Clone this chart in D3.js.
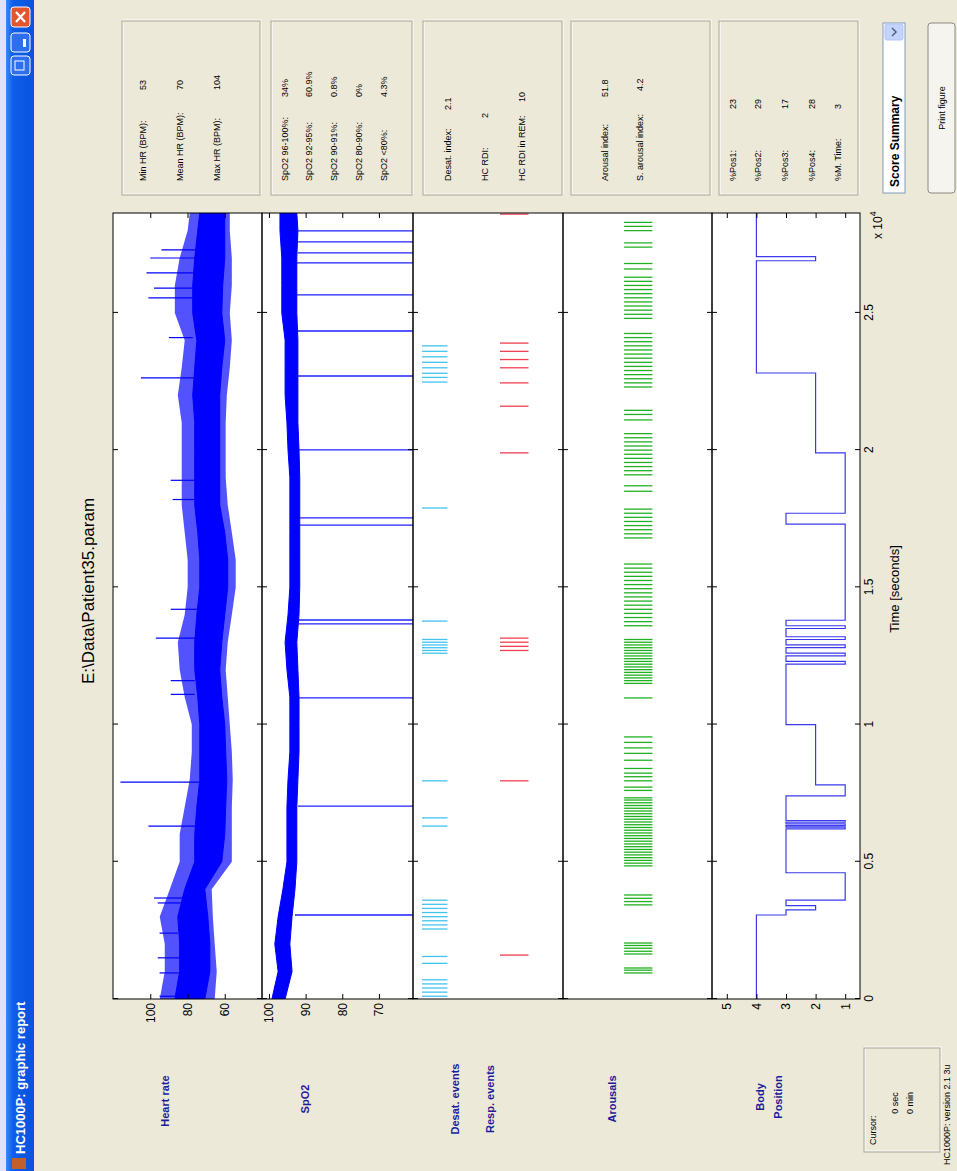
<!DOCTYPE html>
<html><head><meta charset="utf-8">
<script src="https://cdn.jsdelivr.net/npm/d3@7"></script>
<style>
body{margin:0;background:#ECE9D8;overflow:hidden;}
svg{display:block;font-family:"Liberation Sans",Arial,sans-serif;}
</style>
</head><body>
<svg id="c" width="957" height="1171"></svg>
<script>
// ---------------- DATA ----------------
const xTicks = [0, 5000, 10000, 15000, 20000, 25000];
const hrTicks = [60, 80, 100];
const spo2Ticks = [70, 80, 90, 100];
const posTicks = [1, 2, 3, 4, 5];

// heart-rate envelope (time s; core band and outer noisy fringe, bpm)
const hrTime      = [0,1000,2000,3000,4000,5000,6000,7000,8000,9000,10000,11000,12000,13000,14000,15000,16000,17000,18000,19000,20000,21000,22000,23000,24000,25000,26000,27000,28000,28640];
const hrCoreHigh  = [86.8,84.2,84.2,85.2,81.5,76.1,76.1,75.0,73.4,73.4,73.4,74.5,76.1,76.1,75.0,73.4,73.4,74.5,76.1,76.1,76.1,76.1,77.2,76.1,75.0,77.2,77.2,76.1,74.5,73.4];
const hrCoreLow   = [70.7,68.0,68.0,69.1,70.7,61.6,60.0,59.5,58.9,59.5,60.0,61.6,62.7,61.6,60.0,58.4,58.4,60.0,62.7,62.7,62.7,62.7,62.7,61.6,60.0,61.6,61.1,60.0,60.0,60.0];
const hrOuterHigh = [94.9,92.2,92.2,94.9,89.5,84.2,84.2,81.5,78.8,77.7,77.7,81.5,84.2,85.2,81.5,79.9,79.9,81.5,83.1,83.1,83.1,83.1,85.2,83.1,81.5,86.8,86.8,84.2,79.9,78.8];
const hrOuterLow  = [65.4,64.3,65.4,66.4,67.0,56.2,56.2,56.2,55.7,56.2,57.3,58.4,59.5,58.4,56.2,54.1,54.1,56.2,58.4,59.5,59.5,59.5,58.9,57.3,56.2,57.3,56.2,56.2,57.3,57.3];
const hrSpikeTime  = [100,950,1500,2400,3500,3680,6300,7900,11100,11600,13150,14200,18200,18900,22630,24100,25550,25900,26460,27000,27300];
const hrSpikeValue = [95,95,96,95,96,98,101,116,89,89,97,89,88,89,105,90,101,98,102,100,94];

// SpO2 envelope (%)
const spo2Time = [0,1000,2000,3000,4000,5000,6000,7000,8000,9000,10000,11000,12000,13000,14000,15000,16000,17000,18000,19000,20000,21000,22000,23000,24000,25000,26000,27000,28000,28640];
const spo2High = [99.2,97.5,98.4,97.5,96.2,95.1,95.1,95.1,94.8,94.3,94.3,94.3,95.1,95.6,94.8,94.3,94.3,94.3,94.3,94.3,94.8,95.1,95.6,95.6,95.6,96.5,96.5,96.5,97.0,97.0];
const spo2Low  = [95.6,93.7,94.3,93.7,92.9,92.4,92.4,92.4,92.1,91.8,91.8,91.8,92.1,92.4,91.8,91.6,91.6,91.6,91.6,91.6,91.8,92.1,92.1,92.1,92.1,92.4,92.4,92.4,92.1,92.4];
const spo2DropTime  = [3060,7030,10970,13670,13810,17270,17530,20010,22700,24340,25660,26820,27190,27590,27990];
const spo2DropValue = [0,0,0,0,0,0,0,0,0,0,0,0,0,0,0];

// events (time s)
const desatTimes = [100,250,400,550,700,1300,1550,2550,2700,2850,3000,3150,3300,3450,3600,6300,6600,7950,12600,12700,12800,12900,13000,13100,13770,17890,22480,22650,22800,23000,23200,23400,23600,23800];
const respTimes = [1600,7950,12700,12850,13000,13150,19900,21600,22450,23000,23300,23600,23900,28600];
const arousalTimes = [950,1050,1130,1640,1740,1850,1950,2040,3430,3550,3670,3790,
 4850,4950,5050,5150,5250,5350,5450,5550,5650,5750,5850,5950,6050,6150,6250,6350,6450,6550,6650,6750,6850,6950,7050,7150,7250,7330,
 7600,7720,7950,8100,8230,8400,8700,8950,9150,9350,9550,10970,
 11500,11600,11700,11800,11900,12000,12100,12200,12300,12400,12500,12600,12700,12800,12900,13000,13100,
 13600,13750,13900,14050,14200,14350,14500,14650,14800,14950,15100,15250,15400,15550,15700,15850,
 16800,16950,17100,17250,17400,17550,17700,17850,18500,18700,
 19100,19250,19400,19550,19700,19850,20000,20150,20300,20450,20600,21100,21300,21450,
 22300,22450,22600,22750,22900,23050,23200,23350,23500,23650,23800,23950,24100,24250,
 24800,24950,25100,25250,25400,25550,25700,25850,26000,26150,26300,26600,26800,27400,27550,28000,28150,28300];

// body position steps (start time s, position)
const posTime  = [0,3060,3250,3400,3600,4600,6200,6260,6320,6380,6440,6500,7400,7800,10000,12200,12300,12500,12600,12800,12900,13100,13200,13500,13600,13800,17300,17700,19900,22810,26900,27050];
const posValue = [4,3,2,3,1,3,1,3,1,3,1,3,1,2,3,1,3,1,3,1,3,1,3,1,3,1,3,1,2,4,2,4];

// info panel texts
const hrStatLabels = ["Min HR (BPM):","Mean HR (BPM):","Max HR (BPM):"];
const hrStatValues = ["53","70","104"];
const spo2StatLabels = ["SpO2 96-100%:","SpO2 92-95%:","SpO2 90-91%:","SpO2 80-90%:","SpO2    <80%:"];
const spo2StatValues = ["34%","60.9%","0.8%","0%","4.3%"];
const eventStatLabels = ["Desat. index:","HC RDI:","HC RDI in REM:"];
const eventStatValues = ["2.1","2","10"];
const arousalStatLabels = ["Arousal index:","S. arousal index:"];
const arousalStatValues = ["51.8","4.2"];
const posStatLabels = ["%Pos1:","%Pos2:","%Pos3:","%Pos4:","%M. Time:"];
const posStatValues = ["23","29","17","28","3"];
const rowLabels = ["Heart rate","SpO2","Desat. events","Resp. events","Arousals"];

// ---------------- DRAW ----------------
const W0 = 1171, H0 = 957; // un-rotated window size
const svg = d3.select("#c");
const defs = svg.append("defs");
const root = svg.append("g").attr("transform", `translate(0,${W0}) rotate(-90)`);

root.append("rect").attr("x",0).attr("y",0).attr("width",W0).attr("height",H0).attr("fill","#ECE9D8");
root.append("rect").attr("x",0).attr("y",0).attr("width",W0).attr("height",6).attr("fill","#DDE4F6");
const tg = defs.append("linearGradient").attr("id","tb").attr("x1",0).attr("x2",0).attr("y1",0).attr("y2",1);
tg.append("stop").attr("offset","0%").attr("stop-color","#3B8AF5");
tg.append("stop").attr("offset","25%").attr("stop-color","#0D5EEA");
tg.append("stop").attr("offset","100%").attr("stop-color","#0A52DC");
root.append("rect").attr("x",0).attr("y",6).attr("width",W0).attr("height",28).attr("fill","url(#tb)");
root.append("text").attr("x",17).attr("y",25).attr("fill","#fff").attr("font-weight","bold").attr("font-size",13).text("HC1000P:  graphic report");
root.append("rect").attr("x",2).attr("y",12).attr("width",11).attr("height",14).attr("fill","#C0602A");
[1096,1119].forEach(u=>{
  root.append("rect").attr("x",u).attr("y",11).attr("width",19).attr("height",19).attr("rx",3).attr("fill","#2E6FF0").attr("stroke","#fff");
});
root.append("rect").attr("x",1144).attr("y",11).attr("width",20).attr("height",19).attr("rx",3).attr("fill","#E2552E").attr("stroke","#fff");
root.append("path").attr("d","M1149,16 L1159,25 M1159,16 L1149,25").attr("stroke","#fff").attr("stroke-width",2.2);
root.append("rect").attr("x",1124).attr("y",23).attr("width",8).attr("height",3).attr("fill","#fff");
root.append("rect").attr("x",1101).attr("y",15).attr("width",9).attr("height",9).attr("fill","none").attr("stroke","#fff");

// plot geometry
const uL = 172, uR = 958;
const x = d3.scaleLinear().domain([0, 28640]).range([uL, uR]);
const panels = [
  {top:113,bottom:262},{top:262,bottom:413},{top:413,bottom:563},{top:563,bottom:712},{top:712,bottom:860}
];
const yHR = d3.scaleLinear().domain([40,120]).range([panels[0].bottom, panels[0].top]);
const ySp = d3.scaleLinear().domain([60.7,101.9]).range([panels[1].bottom, panels[1].top]);
const yEv = d3.scaleLinear().domain([0,1]).range([panels[2].bottom, panels[2].top]);
const yAr = d3.scaleLinear().domain([0,1]).range([panels[3].bottom, panels[3].top]);
const yPos = d3.scaleLinear().domain([0.5,5.5]).range([panels[4].bottom, panels[4].top]);

panels.forEach((p,i)=>{
  root.append("rect").attr("x",uL).attr("y",p.top).attr("width",uR-uL).attr("height",p.bottom-p.top).attr("fill","#fff");
  defs.append("clipPath").attr("id","cp"+i).append("rect").attr("x",uL).attr("y",p.top).attr("width",uR-uL).attr("height",p.bottom-p.top);
});

// HR
const gHR = root.append("g").attr("clip-path","url(#cp0)");
const hrIdx = d3.range(hrTime.length);
gHR.append("path").datum(hrIdx)
  .attr("d", d3.area().x(i=>x(hrTime[i])).y0(i=>yHR(hrOuterLow[i])).y1(i=>yHR(hrOuterHigh[i])))
  .attr("fill","#0000FF").attr("fill-opacity",0.68);
gHR.append("path").datum(hrIdx)
  .attr("d", d3.area().x(i=>x(hrTime[i])).y0(i=>yHR(hrCoreLow[i])).y1(i=>yHR(hrCoreHigh[i])))
  .attr("fill","#0000FF").attr("stroke","#0000FF").attr("stroke-width",1);
const hrHighAt = t => hrCoreHigh[Math.min(hrTime.length-1, d3.bisectLeft(hrTime,t))];
gHR.selectAll("line.sp").data(hrSpikeTime).join("line")
  .attr("x1",t=>x(t)).attr("x2",t=>x(t))
  .attr("y1",t=>yHR(hrHighAt(t))).attr("y2",(t,i)=>yHR(hrSpikeValue[i]))
  .attr("stroke","#0000FF").attr("stroke-width",1.2);

// SpO2
const gSp = root.append("g").attr("clip-path","url(#cp1)");
const spIdx = d3.range(spo2Time.length);
const spLowAt = t => spo2Low[Math.min(spo2Time.length-1, d3.bisectLeft(spo2Time,t))];
gSp.selectAll("line.dr").data(spo2DropTime).join("line")
  .attr("x1",t=>x(t)).attr("x2",t=>x(t))
  .attr("y1",t=>ySp(spLowAt(t))).attr("y2",(t,i)=>ySp(spo2DropValue[i]))
  .attr("stroke","#2020FF").attr("stroke-width",1.3);
gSp.append("path").datum(spIdx)
  .attr("d", d3.area().x(i=>x(spo2Time[i])).y0(i=>ySp(spo2Low[i])).y1(i=>ySp(spo2High[i])))
  .attr("fill","#0000FF").attr("stroke","#0000FF").attr("stroke-width",1);

// events
const gEv = root.append("g").attr("clip-path","url(#cp2)");
gEv.selectAll("line.de").data(desatTimes).join("line")
  .attr("x1",t=>x(t)).attr("x2",t=>x(t)).attr("y1",yEv(0.94)).attr("y2",yEv(0.77))
  .attr("stroke","#40C4F0").attr("stroke-width",1.3);
gEv.selectAll("line.re").data(respTimes).join("line")
  .attr("x1",t=>x(t)).attr("x2",t=>x(t)).attr("y1",yEv(0.42)).attr("y2",yEv(0.23))
  .attr("stroke","#EE4050").attr("stroke-width",1.3);

// arousals
const gAr = root.append("g").attr("clip-path","url(#cp3)");
gAr.selectAll("line.ar").data(arousalTimes).join("line")
  .attr("x1",t=>x(t)).attr("x2",t=>x(t)).attr("y1",yAr(0.59)).attr("y2",yAr(0.40))
  .attr("stroke","#22B022").attr("stroke-width",1.3);

// body position
const gPos = root.append("g").attr("clip-path","url(#cp4)");
const posIdx = d3.range(posTime.length);
const posLine = d3.line().curve(d3.curveStepAfter).x(d=>x(d[0])).y(d=>yPos(d[1]));
const posPts = posIdx.map(i=>[posTime[i],posValue[i]]).concat([[28640,posValue[posValue.length-1]]]);
gPos.append("path").datum(posPts).attr("d", posLine)
  .attr("fill","none").attr("stroke","#3A3AF0").attr("stroke-width",1.2);

// axes
const tickStyle = g => { g.select(".domain").remove(); g.selectAll("line").attr("stroke","#000"); g.selectAll("text").attr("fill","#000").attr("font-size",12).attr("font-family","Liberation Sans, Arial, sans-serif"); };
const yScales = [yHR, ySp, null, null, yPos];
const yTickSets = [hrTicks, spo2Ticks, [], [], posTicks];
panels.forEach((p,i)=>{
  const last = i===panels.length-1;
  root.append("g").attr("transform",`translate(0,${p.bottom})`)
    .call(d3.axisBottom(x).tickValues(xTicks).tickSize(-5).tickPadding(4).tickFormat(last? (d=>d/1e4) : ""))
    .call(tickStyle);
  root.append("g").attr("transform",`translate(0,${p.top})`)
    .call(d3.axisTop(x).tickValues(xTicks).tickSize(-5).tickFormat(""))
    .call(tickStyle);
  if (yScales[i]) {
    root.append("g").attr("transform",`translate(${uL},0)`)
      .call(d3.axisLeft(yScales[i]).tickValues(yTickSets[i]).tickSize(-5).tickPadding(4).tickFormat(d3.format("d")))
      .call(tickStyle);
    root.append("g").attr("transform",`translate(${uR},0)`)
      .call(d3.axisRight(yScales[i]).tickValues(yTickSets[i]).tickSize(-5).tickFormat(""))
      .call(tickStyle);
  }
  root.append("rect").attr("x",uL).attr("y",p.top).attr("width",uR-uL).attr("height",p.bottom-p.top)
    .attr("fill","none").attr("stroke","#000").attr("stroke-width",1);
});

const xl = root.append("text").attr("x",932).attr("y",882).attr("font-size",12);
xl.append("tspan").text("x 10");
xl.append("tspan").attr("dy",-6).attr("font-size",9).text("4");
root.append("text").attr("x",582).attr("y",899).attr("text-anchor","middle").attr("font-size",13).text("Time [seconds]");
root.append("text").attr("x",580).attr("y",94).attr("text-anchor","middle").attr("font-size",17).text("E:\\Data\\Patient35.param");

// row labels
const rowV = [169, 309, 459, 494, 616];
const rowU = [70, 72, 72, 72, 72];
rowLabels.forEach((s,i)=>{
  root.append("text").attr("x",rowU[i]).attr("y",rowV[i]).attr("text-anchor","middle")
    .attr("font-weight","bold").attr("font-size",11).attr("fill","#1C1C9C").text(s);
});
root.append("text").attr("x",74).attr("y",764).attr("text-anchor","middle").attr("font-weight","bold").attr("font-size",11).attr("fill","#1C1C9C").text("Body");
root.append("text").attr("x",74).attr("y",782).attr("text-anchor","middle").attr("font-weight","bold").attr("font-size",11).attr("fill","#1C1C9C").text("Position");

function groupBox(v0,v1,u0,u1){
  root.append("rect").attr("x",u0+1).attr("y",v0+1).attr("width",u1-u0).attr("height",v1-v0).attr("fill","none").attr("stroke","#fff");
  root.append("rect").attr("x",u0).attr("y",v0).attr("width",u1-u0).attr("height",v1-v0).attr("fill","none").attr("stroke","#A8A798");
}
const boxU0 = 976, boxU1 = 1150;
const boxes = [
  {v0:122,v1:260,labels:hrStatLabels,values:hrStatValues,rows:[146,183,220],valU:1081},
  {v0:271,v1:412,labels:spo2StatLabels,values:spo2StatValues,rows:[288,312,337,362,387],valU:1074},
  {v0:423,v1:562,labels:eventStatLabels,values:eventStatValues,rows:[451,488,525],valU:[1061,1053,1069]},
  {v0:571,v1:710,labels:arousalStatLabels,values:arousalStatValues,rows:[608,643],valU:[1074,1080]},
  {v0:719,v1:858,labels:posStatLabels,values:posStatValues,rows:[736,761,788,815,841],valU:1062}
];
boxes.forEach(b=>{
  groupBox(b.v0,b.v1,boxU0,boxU1);
  b.labels.forEach((s,i)=>{
    root.append("text").attr("x",990).attr("y",b.rows[i]).attr("font-size",9).attr("fill","#000").text(s);
    const vu = Array.isArray(b.valU)? b.valU[i] : b.valU;
    root.append("text").attr("x",vu).attr("y",b.rows[i]).attr("font-size",9).attr("fill","#000").text(b.values[i]);
  });
});

root.append("rect").attr("x",978).attr("y",883).attr("width",170).attr("height",22).attr("fill","#fff").attr("stroke","#7F9DB9");
root.append("text").attr("x",984).attr("y",899).attr("font-size",12).attr("font-weight","bold").text("Score Summary");
root.append("rect").attr("x",1131).attr("y",885).attr("width",16).attr("height",18).attr("rx",2).attr("fill","#C3D3FD").attr("stroke","#B1C5F5");
root.append("path").attr("d","M1135,892 L1139,896 L1143,892").attr("fill","none").attr("stroke","#4D6185").attr("stroke-width",1.5);
root.append("rect").attr("x",978).attr("y",928).attr("width",170).attr("height",27).attr("rx",3).attr("fill","#F5F4EE").attr("stroke","#8A8A80");
root.append("text").attr("x",1063).attr("y",945).attr("text-anchor","middle").attr("font-size",9).text("Print figure");

groupBox(864,940,19,123);
root.append("text").attr("x",26).attr("y",876).attr("font-size",9).text("Cursor:");
root.append("text").attr("x",68).attr("y",898).attr("text-anchor","middle").attr("font-size",9).text("0 sec");
root.append("text").attr("x",68).attr("y",913).attr("text-anchor","middle").attr("font-size",9).text("0 min");
root.append("text").attr("x",6).attr("y",950).attr("font-size",9).text("HC1000P: version 2.1 3u");
</script>
</body></html>
